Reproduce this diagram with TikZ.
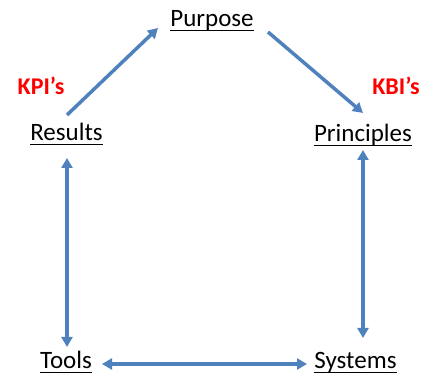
\documentclass[tikz,border=0pt]{standalone}
\usepackage{fontspec}
\setmainfont{Carlito}
\usetikzlibrary{arrows.meta}
\definecolor{arrblue}{HTML}{4F81BD}
\newcommand{\myul}[1]{\setbox0\hbox{#1}\rlap{\rule[-3.5pt]{\wd0}{0.9pt}}\box0}
\begin{document}
\begin{tikzpicture}[x=1pt,y=1pt,
  lbl/.style={font=\fontsize{25}{30}\selectfont, inner sep=0pt, anchor=base},
  kpi/.style={font=\fontsize{24}{28}\selectfont\bfseries, text=red, inner sep=0pt, anchor=base},
  tipstyle/.style={},
  arr/.style={draw=arrblue, line width=3.5pt, -{Triangle[length=10pt,width=11pt]}},
  darr/.style={draw=arrblue, line width=3.5pt, {Triangle[length=10pt,width=11pt]}-{Triangle[length=10pt,width=11pt]}}]
\useasboundingbox (0,0) rectangle (434,375);
\node[lbl] (pur) at (212,348) {\myul{Purpose}};
\node[lbl] (res) at (66.5,234) {\myul{Results}};
\node[lbl] (pri) at (363,233) {\myul{Principles}};
\node[lbl] (too) at (66,6) {\myul{Tools}};
\node[lbl] (sys) at (355.5,6) {\myul{Systems}};
\node[kpi] (kpi) at (41,280) {KPI’s};
\node[kpi] (kbi) at (396,280) {KBI’s};
\draw[arr] ([xshift=0.5pt,yshift=26pt]res.base) -- ([xshift=-54pt,yshift=-1pt]pur.base);
\draw[arr] ([xshift=56pt,yshift=-5pt]pur.base) -- ([yshift=29pt]pri.base);
\draw[darr] ([xshift=0.5pt,yshift=-17pt]res.base) -- ([xshift=0.5pt,yshift=22pt]res.base |- too.base);
\draw[darr] ([yshift=-8pt]pri.base) -- ([yshift=31pt]pri.base |- sys.base);
\draw[darr] ([xshift=36pt,yshift=5pt]too.base) -- ([xshift=-48.5pt,yshift=5pt]sys.base);
\end{tikzpicture}
\end{document}
